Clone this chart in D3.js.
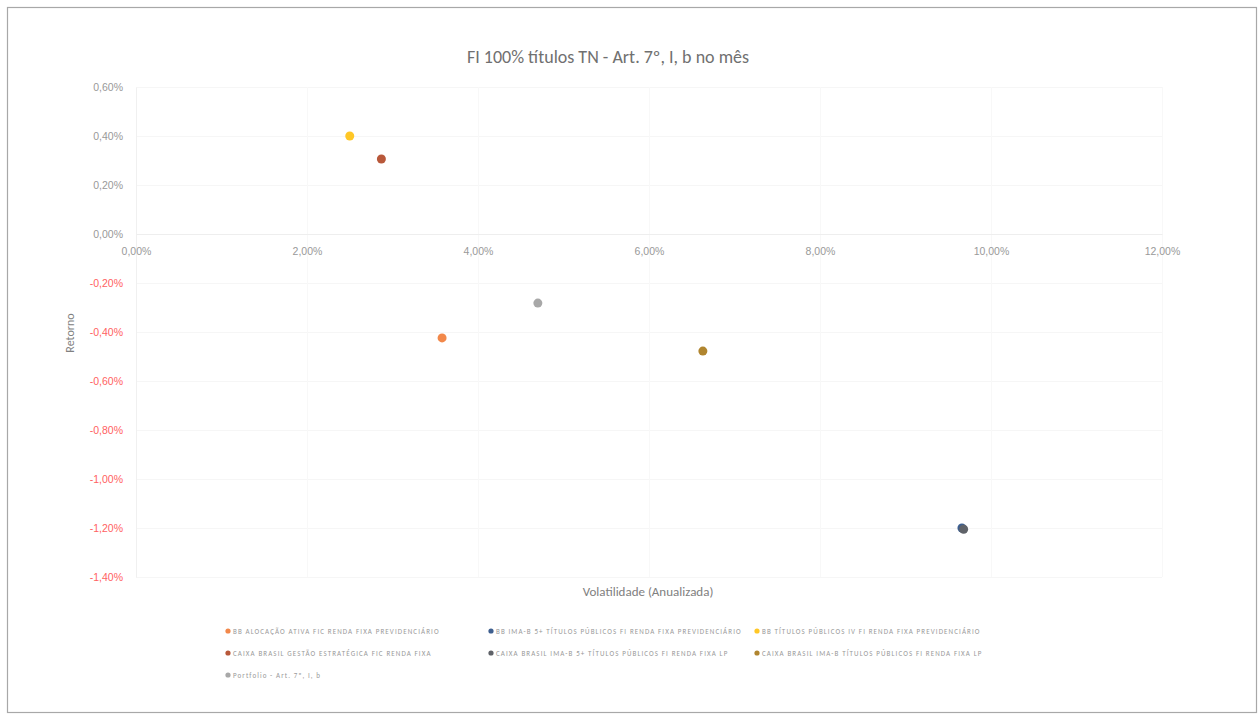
<!DOCTYPE html>
<html>
<head>
<meta charset="utf-8">
<script src="https://cdn.jsdelivr.net/npm/d3@7"></script>
<style>
  html, body { margin: 0; padding: 0; background: #fff; }
  svg { display: block; font-family: Calibri, Carlito, "Open Sans", "Liberation Sans", sans-serif; }
</style>
</head>
<body>
<svg id="chart" width="1260" height="715"></svg>
<script>
// ---- Data ----
const seriesNames = [
  "BB ALOCAÇÃO ATIVA FIC RENDA FIXA PREVIDENCIÁRIO",
  "BB IMA-B 5+ TÍTULOS PÚBLICOS FI RENDA FIXA PREVIDENCIÁRIO",
  "BB TÍTULOS PÚBLICOS IV FI RENDA FIXA PREVIDENCIÁRIO",
  "CAIXA BRASIL GESTÃO ESTRATÉGICA FIC RENDA FIXA",
  "CAIXA BRASIL IMA-B 5+ TÍTULOS PÚBLICOS FI RENDA FIXA LP",
  "CAIXA BRASIL IMA-B TÍTULOS PÚBLICOS FI RENDA FIXA LP",
  "Portfolio - Art. 7º, I, b"
];
const volatility = [3.58, 9.66, 2.50, 2.87, 9.68, 6.63, 4.70];   // % anualizada
const returns    = [-0.424, -1.200, 0.400, 0.306, -1.205, -0.478, -0.282]; // % no mês
const seriesColors = ["#F2884A", "#3E5F8F", "#FFC726", "#B8583A", "#5F6268", "#B0852F", "#A8A8A8"];
const xTicks = [0, 2, 4, 6, 8, 10, 12];
const yTicks = [0.6, 0.4, 0.2, 0, -0.2, -0.4, -0.6, -0.8, -1.0, -1.2, -1.4];
const title = "FI 100% títulos TN - Art. 7º, I, b no mês";
const xTitle = "Volatilidade (Anualizada)";
const yTitle = "Retorno";

// ---- Layout ----
const svg = d3.select("#chart");
const fmt = v => d3.format(".2f")(v).replace(".", ",").replace("−", "-") + "%";

const x = d3.scaleLinear().domain([0, 12]).range([136, 1162]);
const y = d3.scaleLinear().domain([-1.4, 0.6]).range([577, 87]);

// outer frame
svg.append("rect").attr("x", 7.5).attr("y", 7.5).attr("width", 1249).attr("height", 705)
  .attr("fill", "#fff").attr("stroke", "#a8a8a8").attr("stroke-width", 1.2);

// gridlines (very faint)
svg.append("g").selectAll("line").data(yTicks).join("line")
  .attr("x1", x(0)).attr("x2", x(12))
  .attr("y1", d => Math.round(y(d)) + 0.5).attr("y2", d => Math.round(y(d)) + 0.5)
  .attr("stroke", "#f6f6f6").attr("stroke-width", 1);
svg.append("g").selectAll("line").data(xTicks).join("line")
  .attr("y1", y(0.6)).attr("y2", y(-1.4))
  .attr("x1", d => Math.round(x(d)) + 0.5).attr("x2", d => Math.round(x(d)) + 0.5)
  .attr("stroke", "#f8f8f8").attr("stroke-width", 1);

// y axis (at x = 0)
const yAxis = d3.axisLeft(y).tickValues(yTicks).tickFormat(fmt).tickSize(0).tickPadding(13);
const gy = svg.append("g").attr("transform", `translate(${x(0)},0)`).call(yAxis);
gy.select(".domain").attr("stroke", "#f0f0f0");
gy.selectAll("text").attr("font-size", 10.5).attr("fill", d => d < 0 ? "#FF6262" : "#999999");

// x axis (at y = 0), labels below
const xAxis = d3.axisBottom(x).tickValues(xTicks).tickFormat(fmt).tickSize(0).tickPadding(14);
const gx = svg.append("g").attr("transform", `translate(0,${y(0)})`).call(xAxis);
gx.select(".domain").attr("stroke", "#eeeeee");
gx.selectAll("text").attr("font-size", 10.5).attr("fill", "#999999");

// title
svg.append("text").attr("x", 608).attr("y", 63).attr("text-anchor", "middle")
  .attr("font-size", 18).attr("fill", "#707070").text(title);

// axis titles
svg.append("text").attr("x", 648).attr("y", 596).attr("text-anchor", "middle")
  .attr("font-size", 13).attr("fill", "#808080").text(xTitle);
svg.append("text").attr("transform", `translate(74,333) rotate(-90)`).attr("text-anchor", "middle")
  .attr("font-size", 12).attr("fill", "#808080").text(yTitle);

// points
svg.append("g").selectAll("circle").data(seriesNames.map((n, i) => i)).join("circle")
  .attr("cx", i => x(volatility[i])).attr("cy", i => y(returns[i]))
  .attr("r", 4.5).attr("fill", i => seriesColors[i]);

// legend
const legPos = [[228, 631], [491, 631], [757, 631], [228, 653], [491, 653], [757, 653], [228, 675]];
const leg = svg.append("g").selectAll("g").data(seriesNames.map((n, i) => i)).join("g")
  .attr("transform", i => `translate(${legPos[i][0]},${legPos[i][1]})`);
leg.append("circle").attr("r", 2.6).attr("fill", i => seriesColors[i]);
leg.append("text").attr("x", 5).attr("y", 2.5).attr("font-size", 7).attr("letter-spacing", 1.1)
  .attr("fill", "#999999")
  .text(i => seriesNames[i]);
</script>
</body>
</html>
